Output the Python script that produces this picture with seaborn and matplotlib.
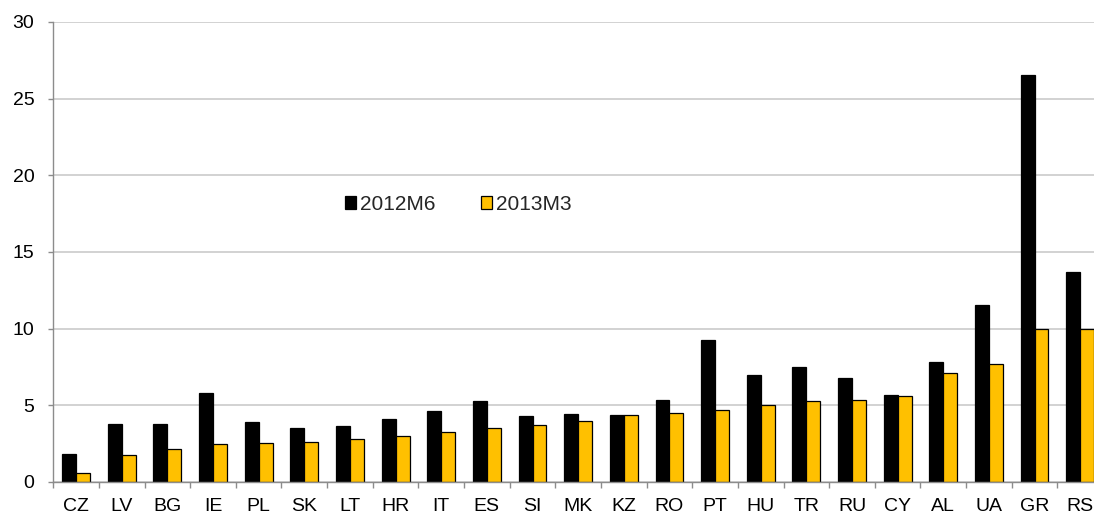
import numpy as np
import pandas as pd
import matplotlib
matplotlib.use("Agg")
import matplotlib.pyplot as plt
from matplotlib.patches import Patch
from matplotlib.ticker import FixedLocator
import seaborn as sns

countries = ["CZ", "LV", "BG", "IE", "PL", "SK", "LT", "HR", "IT", "ES", "SI", "MK",
             "KZ", "RO", "PT", "HU", "TR", "RU", "CY", "AL", "UA", "GR", "RS"]
vals_2012m6 = [1.8, 3.76, 3.76, 5.78, 3.93, 3.5, 3.65, 4.09, 4.6, 5.28, 4.33, 4.41,
               4.39, 5.37, 9.25, 6.98, 7.52, 6.78, 5.7, 7.81, 11.57, 26.55, 13.72]
vals_2013m3 = [0.6, 1.78, 2.15, 2.46, 2.57, 2.59, 2.78, 2.98, 3.26, 3.54, 3.72, 3.98,
               4.35, 4.48, 4.72, 5.0, 5.3, 5.35, 5.61, 7.11, 7.72, 10.0, 10.0]
series_names = ["2012M6", "2013M3"]
series_colors = ["#000000", "#FFC000"]

df = pd.DataFrame({
    "country": countries * 2,
    "series": [series_names[0]] * len(countries) + [series_names[1]] * len(countries),
    "value": vals_2012m6 + vals_2013m3,
})

sns.set_theme(style="white")
plt.rcParams["font.family"] = ["Liberation Sans", "DejaVu Sans"]

W, H = 1094, 518
fig = plt.figure(figsize=(W / 100, H / 100), dpi=100)
# plot area runs slightly past the right border of the figure
left, right, bottom, top = 53.3, 1103.0, 482.0, 22.0
ax = fig.add_axes([left / W, 1 - bottom / H, (right - left) / W, (bottom - top) / H])

sns.barplot(data=df, x="country", y="value", hue="series", order=countries,
            hue_order=series_names, palette=series_colors, width=0.61, gap=0,
            edgecolor="#000000", linewidth=0.9, saturation=1, legend=False, ax=ax)

ax.set_xlim(-0.5, len(countries) - 0.5)
ax.set_ylim(0, 30)
ax.set_yticks(np.arange(0, 31, 5))
ax.yaxis.grid(True, color="#C6C6C6", linewidth=1.1)
ax.xaxis.grid(False)
ax.set_axisbelow(True)
ax.set_xlabel("")
ax.set_ylabel("")

for side in ["top", "right"]:
    ax.spines[side].set_visible(False)
for side in ["left", "bottom"]:
    ax.spines[side].set_color("#8C8C8C")
    ax.spines[side].set_linewidth(1.0)

ax.xaxis.set_minor_locator(FixedLocator(np.arange(-0.5, len(countries), 1.0)))
ax.tick_params(axis="x", which="major", length=0, pad=11.5, labelsize=14, colors="#000000")
ax.tick_params(axis="x", which="minor", length=4.5, width=1.0, color="#8C8C8C", direction="out", bottom=True)
ax.tick_params(axis="y", which="major", length=3.6, width=1.0, color="#8C8C8C", direction="out",
               pad=10, labelsize=14, left=True, labelcolor="#000000")

handles = [Patch(facecolor=c, edgecolor="#000000", linewidth=0.9) for c in series_colors]
ax.legend(handles, series_names, ncol=2, frameon=False, fontsize=15,
          loc="center left", bbox_to_anchor=(0.2779, 0.604),
          handlelength=0.55, handleheight=0.55, handletextpad=0.15, columnspacing=2.2,
          borderaxespad=0, borderpad=0)

fig.savefig("out.png", dpi=100)
